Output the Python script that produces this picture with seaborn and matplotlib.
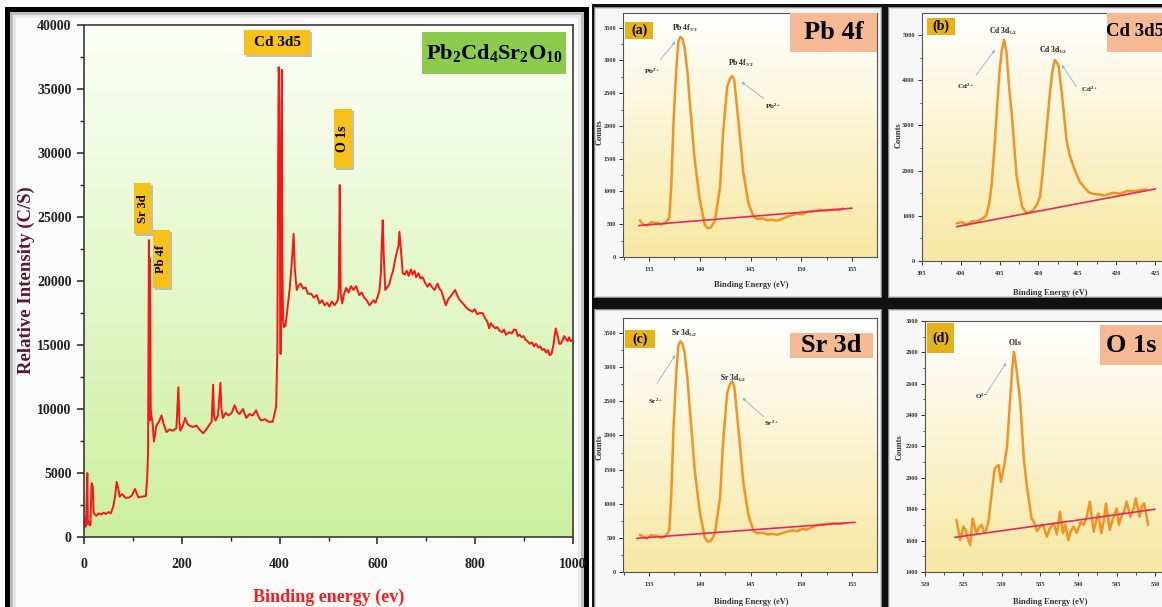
import numpy as np
import pandas as pd
import matplotlib
matplotlib.use("Agg")
import matplotlib.pyplot as plt
import seaborn as sns
from matplotlib.patches import Rectangle
from matplotlib.ticker import MultipleLocator

# ---------------- data ----------------
survey_points = [
    (0, 700), (2, 1500), (4, 800), (6.8, 5000), (8, 1000), (10, 1200), (13, 900), (15.6, 4200),
    (18, 3900), (19.7, 1900), (25, 1650), (30, 1850), (35, 1750), (40, 1900), (45, 1800), (50, 1950),
    (55, 1850), (60, 2400), (64, 3300), (66.7, 4300), (70, 3800), (73, 3150), (78, 3350), (85, 3050),
    (93, 3100), (98, 3250), (104, 3750), (108, 3400), (111, 3100), (118, 3150), (126.5, 3200),
    (129, 4500), (131, 6500), (132.7, 23200), (133.5, 14000), (134, 9100), (135, 21800),
    (136.5, 10000), (138, 9400), (140, 9000), (143, 7450), (148, 8700), (153, 9000), (158.5, 9500),
    (163, 8800), (168.7, 8200), (175, 8400), (182, 8300), (189, 8500), (193, 11700), (195, 9000),
    (197, 8300), (202, 8700), (207, 9300), (212, 8800), (216, 8700), (222, 8600), (230, 8700),
    (236, 8400), (243.5, 8100), (250, 8400), (257, 8800), (261, 9000), (264, 11900), (266, 9400),
    (269, 9100), (274, 9500), (279, 12050), (281, 10000), (284, 9300), (290, 9700), (296, 9500),
    (302, 9700), (308, 10300), (313, 9800), (318, 9600), (325, 10000), (332, 9300), (338, 9600),
    (345, 9500), (352, 9900), (357, 9400), (362, 9100), (370, 9200), (378, 9000), (386, 9000),
    (393, 10200), (395.3, 14600), (396.5, 25000), (398, 36700), (399, 36000), (400.5, 25000),
    (402, 14300), (403.5, 30000), (404.7, 36500), (405.4, 22400), (407, 17000), (409, 16400),
    (412, 16500), (416, 17800), (420.4, 19300), (425, 21500), (428.6, 23700), (431, 21000),
    (435, 19300), (440, 19700), (443, 19800), (448, 19400), (453, 19500), (458, 19000),
    (464.6, 19000), (470, 18700), (476, 18900), (481.6, 18250), (487, 18500), (492, 18100),
    (497, 18300), (502, 18000), (507, 18400), (512, 18100), (516, 18300), (519, 18500),
    (521, 19500), (523, 27500), (525, 19000), (528, 18250), (532, 19000), (536, 19450),
    (541, 19100), (546, 19600), (551, 19300), (556.5, 19600), (560, 19200), (563, 18900),
    (568, 19100), (573, 18700), (578, 18500), (583.7, 18100), (588, 18300), (592, 18500),
    (596, 18300), (600.7, 18800), (604, 19200), (607, 20500), (609, 23000), (610.9, 24750),
    (613, 22000), (616, 19300), (620, 19500), (624, 19700), (628, 20300), (632, 20800),
    (636, 21600), (640, 22300), (643, 22700), (645, 23850), (648, 22500), (651.7, 20600),
    (656, 20500), (660, 20800), (664, 20400), (668.7, 20900), (672, 20500), (676, 20800),
    (679, 20300), (684, 20600), (688, 20200), (692.5, 20300), (697, 19900), (702.7, 19550),
    (707, 19800), (712, 19500), (717, 19300), (723, 19800), (727, 19400), (731, 19200),
    (735, 18700), (740, 18100), (745, 18600), (750, 18800), (755, 19100), (759, 19300),
    (763, 18900), (767, 18600), (771, 18400), (775, 18250), (780, 18000), (785, 17800),
    (790, 17700), (794.5, 17600), (799, 17800), (804, 17400), (809, 17500), (815, 17500),
    (820, 17100), (825, 16800), (828.6, 16300), (832, 16700), (836, 16500), (841, 16300),
    (845, 16400), (850, 16100), (855, 16000), (859, 16200), (862.6, 15800), (866, 15900),
    (870, 16000), (875, 15900), (879, 16200), (883, 16200), (887, 15700), (891, 15800),
    (895, 15600), (899, 15700), (903, 15400), (907, 15300), (911, 15100), (916, 15200),
    (920, 14900), (924, 15100), (929, 14800), (933, 14900), (937, 14600), (941, 14700),
    (945, 14400), (949, 14600), (952, 14200), (956, 14300), (960, 15000), (964.6, 16300),
    (968, 15800), (972, 15100), (975, 15100), (979, 15400), (982, 15700), (985, 15500),
    (989, 15300), (992, 15600), (995, 15300), (1000, 15400),
]

pb_points = [
    (134.1, 560), (134.4, 500), (134.8, 480), (135.2, 530), (135.8, 520), (136.2, 495), (136.6, 520),
    (137.0, 600), (137.2, 1100), (137.4, 2000), (137.7, 2900), (137.9, 3300), (138.1, 3360),
    (138.3, 3330), (138.5, 3200), (138.8, 2800), (139.0, 2400), (139.5, 1480), (140.0, 870),
    (140.5, 490), (140.8, 440), (141.1, 450), (141.5, 560), (142.0, 1070), (142.3, 1890),
    (142.7, 2600), (143.0, 2730), (143.2, 2760), (143.4, 2700), (143.8, 2090), (144.3, 1280),
    (144.8, 820), (145.3, 615), (145.7, 580), (146.2, 590), (146.7, 560), (147.1, 570),
    (147.6, 555), (148.1, 580), (148.6, 615), (149.1, 640), (149.6, 665), (150.1, 650),
    (150.6, 690), (151.2, 700), (151.8, 720), (152.5, 710), (153.2, 725), (153.7, 715), (154.1, 740),
]
pb_background = [(134.0, 480), (155.0, 745)]

cd_points = [
    (399.5, 834), (400.2, 860), (400.8, 800), (401.5, 880), (402.0, 870), (402.5, 907), (403.0, 960),
    (403.3, 1010), (403.7, 1300), (404.0, 1720), (404.3, 2400), (404.6, 3190), (405.0, 4200),
    (405.3, 4670), (405.6, 4890), (405.9, 4600), (406.2, 3900), (406.6, 3190), (407.2, 1865),
    (407.9, 1200), (408.5, 1050), (409.3, 1120), (409.8, 1250), (410.2, 1420), (410.5, 1900),
    (410.8, 2455), (411.2, 3200), (411.5, 3780), (411.8, 4200), (412.1, 4450), (412.4, 4380),
    (412.6, 4300), (413.0, 3710), (413.6, 2680), (414.0, 2350), (414.5, 2090), (415.3, 1755),
    (416.4, 1530), (417.1, 1480), (417.7, 1475), (418.5, 1450), (419.6, 1510), (420.5, 1490),
    (421.4, 1550), (422.3, 1540), (423.1, 1570), (423.9, 1580),
]
cd_background = [(399.5, 760), (425.0, 1593)]

sr_points = [
    (134.1, 545), (134.4, 520), (134.8, 490), (135.2, 540), (135.8, 530), (136.2, 500), (136.6, 520),
    (137.0, 610), (137.2, 1150), (137.4, 2050), (137.7, 2950), (137.9, 3320), (138.1, 3380),
    (138.3, 3340), (138.5, 3220), (138.8, 2820), (139.0, 2420), (139.5, 1500), (140.0, 880),
    (140.5, 500), (140.8, 445), (141.1, 455), (141.5, 570), (142.0, 1090), (142.3, 1900),
    (142.7, 2620), (143.0, 2760), (143.2, 2790), (143.4, 2720), (143.8, 2110), (144.3, 1300),
    (144.8, 830), (145.3, 600), (145.7, 567), (146.2, 575), (146.7, 550), (147.1, 560),
    (147.6, 545), (148.1, 570), (148.6, 590), (149.1, 610), (149.6, 600), (150.1, 630),
    (150.5, 620), (151.2, 665), (151.8, 690), (152.5, 700), (153.2, 715), (153.7, 705), (154.2, 712),
]
sr_background = [(133.8, 493), (155.3, 728)]

o_points = [
    (524.1, 1731), (524.6, 1604), (525.0, 1690), (525.3, 1668), (525.6, 1610), (525.9, 1572),
    (526.2, 1740), (526.7, 1647), (527.0, 1680), (527.4, 1700), (527.7, 1650), (528.0, 1668),
    (528.3, 1730), (528.7, 1902), (529.1, 2061), (529.6, 2082), (529.9, 1975), (530.3, 2072),
    (530.7, 2199), (531.1, 2496), (531.4, 2708), (531.6, 2804), (531.9, 2708), (532.4, 2496),
    (532.9, 2114), (533.3, 1944), (533.9, 1742), (534.3, 1710), (534.6, 1660), (535.0, 1690),
    (535.4, 1700), (535.9, 1625), (536.3, 1680), (536.8, 1710), (537.2, 1640), (537.6, 1784),
    (538.0, 1647), (538.3, 1700), (538.7, 1604), (539.0, 1660), (539.4, 1690), (539.8, 1650),
    (540.3, 1720), (540.7, 1700), (541.1, 1752), (541.5, 1848), (542.0, 1657), (542.3, 1720),
    (542.6, 1774), (543.0, 1647), (543.3, 1720), (543.6, 1837), (544.1, 1668), (544.5, 1740),
    (545.0, 1805), (545.3, 1700), (545.6, 1752), (546.0, 1790), (546.3, 1848), (546.8, 1752),
    (547.2, 1800), (547.5, 1869), (548.0, 1752), (548.3, 1820), (548.6, 1837), (549.1, 1700),
]
o_background = [(523.9, 1621), (550.0, 1800)]

survey_xticks = [0, 200, 400, 600, 800, 1000]
survey_yticks = [0, 5000, 10000, 15000, 20000, 25000, 30000, 35000, 40000]

# ---------------- styling ----------------
sns.set_style("ticks")
plt.rcParams["font.family"] = ["Liberation Serif", "DejaVu Serif"]
plt.rcParams["font.weight"] = "bold"
plt.rcParams["mathtext.fontset"] = "custom"
plt.rcParams["mathtext.rm"] = "Liberation Serif:bold"
plt.rcParams["mathtext.it"] = "Liberation Serif:bold"
plt.rcParams["mathtext.bf"] = "Liberation Serif:bold"

W, H = 1162, 607
fig = plt.figure(figsize=(W / 100, H / 100), dpi=100)
fig.patch.set_facecolor("white")


def rect_px(x0, y0, x1, y1, **kw):
    r = Rectangle((x0 / W, 1 - y1 / H), (x1 - x0) / W, (y1 - y0) / H,
                  transform=fig.transFigure, **kw)
    fig.patches.append(r)
    return r


def text_px(x, y, s, **kw):
    return fig.text(x / W, 1 - y / H, s, **kw)


def axes_px(x0, y0, x1, y1):
    return fig.add_axes([x0 / W, 1 - y1 / H, (x1 - x0) / W, (y1 - y0) / H])


def label_box(x0, y0, x1, y1, color, s, size, rotation=0, shadow=True, tcolor="black"):
    if shadow:
        rect_px(x0 + 2, y0 + 2, x1 + 2, y1 + 2, facecolor="#9a9a9a", edgecolor="none",
                alpha=0.6, zorder=5)
    rect_px(x0, y0, x1, y1, facecolor=color, edgecolor="none", zorder=6)
    text_px((x0 + x1) / 2, (y0 + y1) / 2, s, ha="center", va="center", fontsize=size,
            rotation=rotation, color=tcolor, fontweight="bold", zorder=7)


def gradient(ax, top, bottom):
    top = np.array(top)
    bottom = np.array(bottom)
    t = np.linspace(0, 1, 256)[:, None]
    img = top[None, :] * (1 - t) + bottom[None, :] * t
    img = img[:, None, :]
    ax.imshow(img, extent=[0, 1, 0, 1], transform=ax.transAxes, aspect="auto",
              zorder=-10, interpolation="bilinear")


# ---------- frames ----------
# left framed panel
rect_px(5, 7, 589, 640, facecolor="black", edgecolor="none", zorder=-20)
rect_px(10, 12, 584, 640, facecolor="#bdbdbd", edgecolor="none", zorder=-19)
rect_px(13, 15, 581, 640, facecolor="#e9e9e9", edgecolor="none", zorder=-18)
rect_px(16, 18, 578, 640, facecolor="#fbfbfb", edgecolor="none", zorder=-17)
# right block
rect_px(592, 4, 1170, 640, facecolor="#111111", edgecolor="none", zorder=-20)
for (x0, y0, x1, y1) in [(594, 7, 882, 298), (888, 7, 1170, 298),
                         (594, 309, 882, 640), (888, 309, 1170, 640)]:
    rect_px(x0, y0, x1, y1, facecolor="#8a8a8a", edgecolor="none", zorder=-19)
    rect_px(x0 + 1, y0 + 1, x1 - 1, y1 - 1, facecolor="#d6d6d6", edgecolor="none", zorder=-18)
    rect_px(x0 + 2, y0 + 2, x1 - 2, y1 - 2, facecolor="#f7f7f7", edgecolor="none", zorder=-17)

# ---------- survey spectrum ----------
ax = axes_px(84, 25, 573, 537)
ax.set_facecolor("none")
gradient(ax, (0.99, 1.0, 0.97), (0.80, 0.94, 0.62))
df_s = pd.DataFrame(survey_points, columns=["energy", "intensity"])
sns.lineplot(data=df_s, x="energy", y="intensity", ax=ax, color="#ff1414", lw=1.4,
             estimator=None, sort=False)
ax.set_xlim(0, 1000)
ax.set_ylim(0, 40000)
ax.set_xticks(survey_xticks)
ax.set_yticks(survey_yticks)
ax.xaxis.set_minor_locator(MultipleLocator(100))
ax.yaxis.set_minor_locator(MultipleLocator(2500))
ax.tick_params(which="major", direction="out", length=5, width=1.1, labelsize=10,
               colors="#222222", pad=4)
ax.tick_params(which="minor", direction="out", length=3, width=1.0, colors="#222222")
ax.tick_params(axis="x", pad=10)
for sp in ax.spines.values():
    sp.set_visible(True)
    sp.set_color("#3a3a3a")
    sp.set_linewidth(1.2)
ax.set_xlabel("")
ax.set_ylabel("")
text_px(26, 280, "Relative Intensity (C/S)", rotation=90, ha="center", va="center",
        fontsize=13.5, color="#5c1634", fontweight="bold")
text_px(329, 597, "Binding energy (ev)", ha="center", va="center", fontsize=13,
        color="#ff1a1a", fontweight="bold")

label_box(244, 30, 310, 55, "#f6c21a", "Cd 3d5", 11)
label_box(334, 109, 352, 168, "#f6c21a", "O 1s", 10, rotation=90)
label_box(134, 183, 151, 234, "#f6c21a", "Sr 3d", 9, rotation=90)
label_box(153, 230, 170, 288, "#f6c21a", "Pb 4f", 9, rotation=90)
label_box(422, 32, 566, 74, "#8ccc4c", r"Pb$_2$Cd$_4$Sr$_2$O$_{10}$", 16, shadow=False)


# ---------- XPS detail panels ----------
def detail_panel(box, xlim, ylim, xmaj, xmin, ymaj, ymin, points, bg, xlab_pos, ylab_pos):
    a = axes_px(*box)
    a.set_facecolor("none")
    gradient(a, (1.0, 1.0, 1.0), (0.97, 0.91, 0.64))
    d = pd.DataFrame(points, columns=["energy", "counts"])
    sns.lineplot(data=d, x="energy", y="counts", ax=a, color="#f39322", lw=1.8,
                 estimator=None, sort=False)
    b = pd.DataFrame(bg, columns=["energy", "counts"])
    sns.lineplot(data=b, x="energy", y="counts", ax=a, color="#e8265e", lw=1.2,
                 estimator=None, sort=False)
    a.set_xlim(*xlim)
    a.set_ylim(*ylim)
    a.xaxis.set_major_locator(MultipleLocator(xmaj))
    a.xaxis.set_minor_locator(MultipleLocator(xmin))
    a.yaxis.set_major_locator(MultipleLocator(ymaj))
    a.yaxis.set_minor_locator(MultipleLocator(ymin))
    a.tick_params(which="major", direction="out", length=3, width=0.7, labelsize=4.5,
                  colors="#333333", pad=2)
    a.tick_params(which="minor", direction="out", length=1.8, width=0.6, colors="#333333")
    a.tick_params(axis="x", pad=4)
    for sp in a.spines.values():
        sp.set_visible(True)
        sp.set_color("#555555")
        sp.set_linewidth(0.8)
    a.set_xlabel("")
    a.set_ylabel("")
    text_px(*xlab_pos, "Binding Energy (eV)", ha="center", va="center", fontsize=6,
            color="#333333", fontweight="bold")
    text_px(*ylab_pos, "Counts", ha="center", va="center", fontsize=6, rotation=90,
            color="#333333", fontweight="bold", zorder=9)
    return a


def arrow(a, tail, head):
    a.annotate("", xy=head, xytext=tail,
               arrowprops=dict(arrowstyle="-|>", color="#8fb0d6", lw=0.6,
                               mutation_scale=4, shrinkA=0, shrinkB=0))


def note(a, x, y, s, size=5.5):
    a.text(x, y, s, ha="center", va="center", fontsize=size, color="#222222",
           fontweight="bold")


# (a) Pb 4f
aa = detail_panel((623, 13, 877, 257), (132.44, 157.46), (0, 3725), 5, 2.5, 500, 250,
                  pb_points, pb_background, (751, 285), (600, 132))
aa.set_xticks([135, 140, 145, 150, 155])
note(aa, 138.5, 3495, r"Pb 4f$_{7/2}$")
note(aa, 144.1, 2955, r"Pb 4f$_{5/2}$")
note(aa, 135.3, 2830, r"Pb$^{2+}$", 5)
note(aa, 147.2, 2295, r"Pb$^{2+}$", 5)
arrow(aa, (136.1, 3010), (137.6, 3290))
arrow(aa, (146.3, 2420), (144.1, 2675))
label_box(625, 22, 653, 39, "#e6b21a", "(a)", 10, shadow=False)
label_box(790, 13, 877, 52, "#f5b994", "Pb 4f", 19, shadow=False)

# (b) Cd 3d
ab = detail_panel((921.7, 13, 1170, 261), (395, 426.9), (0, 5487), 5, 2.5, 1000, 500,
                  cd_points, cd_background, (1050, 293), (899, 135))
ab.set_xticks([395, 400, 405, 410, 415, 420, 425])
note(ab, 405.5, 5075, r"Cd 3d$_{5/2}$")
note(ab, 411.9, 4670, r"Cd 3d$_{3/2}$")
note(ab, 400.6, 3855, r"Cd$^{2+}$", 5)
note(ab, 416.6, 3800, r"Cd$^{2+}$", 5)
arrow(ab, (402.0, 4115), (404.4, 4670))
arrow(ab, (414.9, 3855), (413.0, 4335))
label_box(927, 18, 955, 35, "#e6b21a", "(b)", 10, shadow=False)
label_box(1107, 13, 1175, 52, "#f5b994", "", 19, shadow=False)
text_px(1106, 32, "Cd 3d5", ha="left", va="center", fontsize=13.5, fontweight="bold",
        color="black", zorder=8)

# (c) Sr 3d
ac = detail_panel((623, 318, 877, 572), (132.44, 157.46), (0, 3720), 5, 2.5, 500, 250,
                  sr_points, sr_background, (751, 602), (600, 447))
ac.set_xticks([135, 140, 145, 150, 155])
note(ac, 138.5, 3495, r"Sr 3d$_{5/2}$")
note(ac, 143.3, 2836, r"Sr 3d$_{3/2}$")
note(ac, 135.6, 2494, r"Sr$^{2+}$", 5)
note(ac, 147.1, 2177, r"Sr$^{2+}$", 5)
arrow(ac, (135.8, 2763), (137.6, 3177))
arrow(ac, (146.3, 2274), (144.2, 2552))
label_box(625, 330, 655, 348, "#e6b21a", "(c)", 10, shadow=False)
label_box(790, 333, 873, 358, "#f5b994", "Sr 3d", 19, shadow=False)

# (d) O 1s
ad = detail_panel((925, 321, 1170, 572), (520, 551.96), (1400, 3000), 5, 2.5, 200, 100,
                  o_points, o_background, (1050, 602), (900, 447))
ad.set_xticks([520, 525, 530, 535, 540, 545, 550])
note(ad, 531.7, 2857, "O1s")
note(ad, 527.4, 2517, r"O$^{2-}$", 5)
arrow(ad, (528.0, 2539), (530.6, 2734))
label_box(927, 323, 954, 353, "#e6b21a", "(d)", 10, shadow=False)
label_box(1100, 325, 1175, 365, "#f5b994", "", 19, shadow=False)
text_px(1106, 345, "O 1s", ha="left", va="center", fontsize=19, fontweight="bold",
        color="black", zorder=8)

fig.savefig("out.png", dpi=100)
